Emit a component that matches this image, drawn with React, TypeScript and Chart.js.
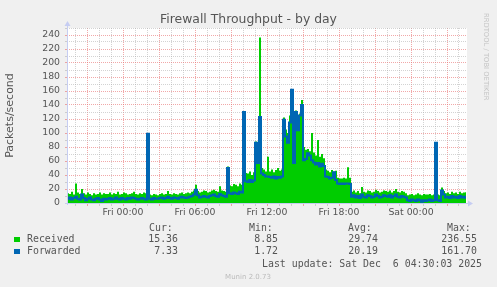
import React, { useEffect, useRef } from 'react';
import { Chart, registerables } from 'chart.js';
Chart.register(...registerables);

const W = 497;
const H = 287;

// time axis: hours relative to Fri 00:00; one sample every 10 minutes
const startHour = -14 / 3; // Thu 19:20
const endHour = 86 / 3; // Sat 04:40
const stepHour = 1 / 6;

const received = [
  14, 13, 16, 12, 28, 15, 13, 20, 14, 12, 15, 13, 11, 14, 12, 13, 15, 12, 14, 13,
  13, 15, 12, 14, 13, 16, 12, 13, 15, 14, 12, 13, 14, 16, 13, 12, 14, 13, 15, 14,
  100, 12, 11, 13, 12, 11, 13, 14, 12, 13, 17, 13, 12, 14, 13, 12, 14, 15, 13, 14,
  15, 14, 16, 18, 26, 17, 15, 16, 18, 17, 15, 16, 18, 19, 17, 16, 24, 18, 17, 16,
  52, 25, 24, 27, 26, 24, 28, 26, 128, 43, 42, 45, 40, 44, 88, 60, 236.55, 50, 48, 45,
  66, 45, 48, 44, 47, 50, 46, 48, 122, 105, 100, 125, 162, 75, 132, 110, 128, 147, 80, 76,
  77, 74, 100, 72, 68, 90, 66, 70, 64, 48, 46, 44, 47, 45, 46, 36, 35, 35, 36, 35,
  51, 36, 16, 18, 15, 17, 14, 23, 16, 15, 18, 17, 15, 16, 19, 17, 15, 16, 18, 17,
  16, 18, 15, 17, 20, 16, 15, 17, 16, 14, 11, 12, 13, 11, 12, 14, 12, 11, 13, 12,
  12, 13, 11, 12, 87, 12, 11, 22, 17, 14, 15, 13, 16, 14, 15, 13, 16, 14, 15, 15.36,
];

const forwarded = [
  6, 8, 5, 7, 9, 6, 5, 12, 7, 4, 6, 8, 5, 4, 6, 7, 5, 3, 6, 5,
  6, 7, 5, 6, 8, 6, 5, 7, 6, 5, 7, 6, 8, 7, 6, 5, 6, 7, 6, 5,
  99, 6, 5, 7, 6, 6, 7, 8, 6, 7, 9, 7, 6, 8, 7, 6, 8, 9, 8, 7,
  8, 9, 10, 12, 19, 11, 8, 9, 10, 9, 8, 10, 11, 12, 10, 9, 13, 11, 10, 9,
  50, 14, 13, 15, 14, 13, 16, 15, 130, 31, 30, 33, 30, 32, 86, 57, 123, 42, 40, 38,
  38, 37, 36, 38, 35, 37, 36, 38, 119, 95, 86, 115, 161.7, 57, 130, 104, 125, 140, 61, 63,
  71, 68, 61, 58, 55, 57, 52, 56, 53, 38, 37, 35, 36, 44, 33, 28, 27, 28, 27, 28,
  28, 27, 9, 11, 8, 10, 7, 12, 9, 8, 11, 10, 8, 9, 12, 10, 8, 9, 11, 10,
  9, 11, 8, 10, 12, 9, 8, 10, 9, 8, 4, 3, 5, 4, 3, 5, 4, 1.72, 4, 3,
  4, 5, 3, 4, 86, 4, 3, 18, 12, 8, 9, 7, 10, 8, 9, 7, 10, 8, 9, 7.33,
];

const xTickHours = [0, 6, 12, 18, 24];
const xTickLabels = ['Fri 00:00', 'Fri 06:00', 'Fri 12:00', 'Fri 18:00', 'Sat 00:00'];
const yMax = 250;
const yLabelMax = 240;

const seriesNames = ['Received', 'Forwarded'];
const seriesColors = ['#00cc00', '#0066b3'];
const statHeads = ['Cur:', 'Min:', 'Avg:', 'Max:'];
const receivedStats = ['15.36', '8.85', '29.74', '236.55'];
const forwardedStats = ['7.33', '1.72', '20.19', '161.70'];
const titleText = 'Firewall Throughput - by day';
const yTitle = 'Packets/second';
const lastUpdate = 'Last update: Sat Dec  6 04:30:03 2025';
const footer = 'Munin 2.0.73';
const sideText = 'RRDTOOL / TOBI OETIKER';

const MAJOR = 'rgba(232,110,110,0.6)';
const MINOR = 'rgba(175,175,175,0.55)';
const AXIS = '#c6cdf2';
const TEXT = '#555555';

const munin = {
  id: 'munin',
  beforeDraw(chart: any) {
    const { ctx, chartArea: a } = chart;
    ctx.save();
    ctx.fillStyle = '#f0f0f0';
    ctx.fillRect(0, 0, W, H);
    ctx.fillStyle = '#ffffff';
    ctx.fillRect(a.left, a.top, a.right - a.left, a.bottom - a.top);
    ctx.restore();
  },
  afterDatasetsDraw(chart: any) {
    const { ctx, chartArea: a } = chart;
    ctx.save();
    ctx.strokeStyle = AXIS;
    ctx.lineWidth = 1;
    ctx.beginPath();
    ctx.moveTo(a.left + 0.5, a.bottom + 2);
    ctx.lineTo(a.left + 0.5, a.top - 3);
    ctx.moveTo(a.left - 2, a.bottom + 0.5);
    ctx.lineTo(a.right + 2, a.bottom + 0.5);
    ctx.stroke();
    ctx.fillStyle = AXIS;
    ctx.beginPath();
    ctx.moveTo(a.left - 2.5, a.top - 2);
    ctx.lineTo(a.left + 3.5, a.top - 2);
    ctx.lineTo(a.left + 0.5, a.top - 7);
    ctx.closePath();
    ctx.fill();
    ctx.beginPath();
    ctx.moveTo(a.right + 1, a.bottom - 2.5);
    ctx.lineTo(a.right + 1, a.bottom + 3.5);
    ctx.lineTo(a.right + 6, a.bottom + 0.5);
    ctx.closePath();
    ctx.fill();
    ctx.restore();
  },
  afterDraw(chart: any) {
    const { ctx } = chart;
    ctx.save();
    // title
    ctx.fillStyle = TEXT;
    ctx.font = '12.4px "DejaVu Sans"';
    ctx.textAlign = 'center';
    ctx.textBaseline = 'alphabetic';
    ctx.fillText(titleText, W / 2, 23);

    // side text
    ctx.save();
    ctx.translate(485.5, 13);
    ctx.rotate(Math.PI / 2);
    ctx.fillStyle = '#c4c4c4';
    ctx.font = '6.8px "DejaVu Sans"';
    ctx.textAlign = 'left';
    ctx.textBaseline = 'middle';
    ctx.fillText(sideText, 0, 0);
    ctx.restore();

    // legend
    ctx.font = '9.9px "DejaVu Sans Mono"';
    ctx.fillStyle = TEXT;
    ctx.textBaseline = 'middle';
    const headX = [149, 249, 348, 447];
    const numRight = [178, 278, 378, 477];
    ctx.textAlign = 'left';
    statHeads.forEach((h, i) => ctx.fillText(h, headX[i], 228));
    const rows = [receivedStats, forwardedStats];
    const rowY = [239.5, 251.5];
    rows.forEach((vals, r) => {
      ctx.fillStyle = seriesColors[r];
      ctx.fillRect(14, rowY[r] - 2.5, 6, 5);
      ctx.fillStyle = TEXT;
      ctx.textAlign = 'left';
      ctx.fillText(seriesNames[r], 27, rowY[r]);
      ctx.textAlign = 'right';
      vals.forEach((v, i) => ctx.fillText(v, numRight[i], rowY[r]));
    });
    ctx.textAlign = 'right';
    ctx.fillText(lastUpdate, 482, 264);

    ctx.font = '7px "DejaVu Sans"';
    ctx.fillStyle = '#bbbbbb';
    ctx.textAlign = 'center';
    ctx.fillText(footer, 248, 277);
    ctx.restore();
  },
};

export default function App() {
  const ref = useRef<HTMLCanvasElement | null>(null);
  useEffect(() => {
    if (!ref.current) return;
    const toPoints = (arr: number[]) =>
      arr.map((v, i) => ({ x: startHour + (i + 0.5) * stepHour, y: v }));
    const chart = new Chart(ref.current, {
      type: 'line',
      data: {
        datasets: [
          {
            label: seriesNames[1],
            data: toPoints(forwarded),
            borderColor: seriesColors[1],
            backgroundColor: seriesColors[1],
            borderWidth: 2,
            pointRadius: 0,
            stepped: 'middle',
            fill: false,
            order: 0,
          },
          {
            label: seriesNames[0],
            data: toPoints(received),
            borderColor: seriesColors[0],
            backgroundColor: seriesColors[0],
            borderWidth: 0,
            pointRadius: 0,
            stepped: 'middle',
            fill: 'origin',
            order: 1,
          },
        ],
      },
      options: {
        animation: false,
        responsive: false,
        devicePixelRatio: 1,
        layout: { padding: { left: 0, top: 28, right: 30, bottom: 64 } },
        plugins: {
          legend: { display: false },
          tooltip: { enabled: false },
          title: { display: false },
        },
        events: [],
        scales: {
          x: {
            type: 'linear',
            min: startHour,
            max: endHour,
            afterBuildTicks: (scale: any) => {
              const t = [];
              for (let h = Math.ceil(startHour); h <= Math.floor(endHour); h++) t.push({ value: h });
              scale.ticks = t;
            },
            afterFit: (scale: any) => {
              scale.height = 20;
            },
            ticks: {
              autoSkip: false,
              maxRotation: 0,
              padding: 1,
              color: TEXT,
              font: { family: 'DejaVu Sans', size: 9.33 },
              callback: (value: any) => {
                const k = xTickHours.indexOf(Number(value));
                return k >= 0 ? xTickLabels[k] : '';
              },
            },
            grid: {
              color: (c: any) => (c.tick && c.tick.value % 3 === 0 ? MAJOR : MINOR),
              tickColor: (c: any) => (c.tick && c.tick.value % 3 === 0 ? MAJOR : MINOR),
              tickLength: 3,
              lineWidth: 1,
            },
            border: { display: false, dash: [1, 1] },
          },
          y: {
            type: 'linear',
            min: 0,
            max: yMax,
            afterBuildTicks: (scale: any) => {
              const t = [];
              for (let v = 0; v <= yMax; v += 10) t.push({ value: v });
              scale.ticks = t;
            },
            afterFit: (scale: any) => {
              scale.width = 67;
            },
            title: {
              display: true,
              text: yTitle,
              color: TEXT,
              font: { family: 'DejaVu Sans', size: 11 },
              padding: { top: 4, bottom: 0 },
            },
            ticks: {
              autoSkip: false,
              padding: 5,
              color: TEXT,
              font: { family: 'DejaVu Sans', size: 9.33 },
              callback: (value: any) =>
                Number(value) % 20 === 0 && Number(value) <= yLabelMax ? String(value) : '',
            },
            grid: {
              color: (c: any) => (c.tick && c.tick.value % 20 === 0 ? MAJOR : MINOR),
              tickColor: (c: any) => (c.tick && c.tick.value % 20 === 0 ? MAJOR : MINOR),
              tickLength: 2,
              lineWidth: 1,
            },
            border: { display: false, dash: [1, 1] },
          },
        },
      },
      plugins: [munin],
    } as any);
    return () => chart.destroy();
  }, []);
  return (
    <div style={{ position: 'absolute', left: 0, top: 0, width: W, height: H }}>
      <canvas ref={ref} width={W} height={H} style={{ width: W, height: H, display: 'block' }} />
    </div>
  );
}
